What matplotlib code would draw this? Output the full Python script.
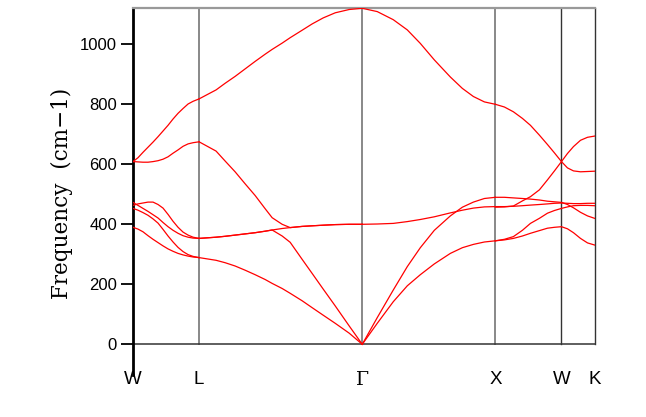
import matplotlib
matplotlib.use("Agg")
import matplotlib.pyplot as plt
import numpy as np

# high-symmetry points and their positions along the k-path
kpoint_labels = ["W", "L", "\u0393", "X", "W", "K"]
kpoint_pos = [0, 66, 229, 362, 428, 461]

# ---- W -> L segment (k offsets from W) ----
wl_k = [0, 5, 10, 15, 20, 25, 30, 35, 40, 45, 50, 55, 60, 66]
wl_bands = [
    [390, 384, 375, 362, 350, 339, 328, 318, 310, 303, 298, 294, 291, 289],
    [453, 447, 439, 430, 418, 404, 383, 361, 341, 323, 309, 299, 293, 289],
    [473, 463, 453, 443, 432, 421, 406, 392, 380, 370, 362, 357, 354, 353],
    [463, 468, 471, 474, 474, 466, 454, 433, 410, 390, 374, 364, 357, 353],
    [609, 608, 607, 607, 609, 612, 617, 625, 637, 648, 660, 668, 672, 675],
    [609, 622, 640, 657, 674, 692, 711, 730, 751, 770, 786, 801, 810, 818],
]

# ---- L -> Gamma segment (k offsets from L) ----
lg_k = [0, 17, 26, 36, 46, 56, 66, 73, 83, 91, 103, 113, 124, 136, 150, 163]
lg_bands = [
    [289, 280, 272, 261, 247, 232, 216, 203, 186, 170, 145, 122, 97, 70, 37, 0],
    [353, 357, 360, 364, 368, 372, 377, 381, 361, 340, 283, 236, 184, 128, 61, 0],
    [353, 357, 360, 364, 368, 372, 377, 381, 386, 389, 393, 395, 397, 399, 400, 400],
    [675, 644, 611, 575, 535, 496, 452, 422, 400, 389, 393, 395, 397, 399, 400, 400],
    [818, 848, 870, 893, 918, 943, 967, 983, 1004, 1022, 1047, 1068, 1088, 1105, 1116, 1120],
]

# ---- Gamma -> X segment (k offsets from Gamma) ----
gx_k = [0, 15, 31, 45, 58, 72, 88, 100, 111, 122, 133]
gx_bands = [
    [0, 70, 142, 195, 232, 268, 303, 322, 333, 341, 345],
    [0, 89, 181, 259, 322, 380, 428, 457, 474, 486, 490],
    [400, 401, 403, 409, 416, 425, 438, 447, 454, 458, 459],
    [1120, 1109, 1082, 1048, 1003, 948, 891, 853, 826, 808, 800],
]

# ---- X -> W -> K segment (k offsets from X) ----
xwk_k = [0, 9, 18, 27, 35, 44, 52, 59, 66, 72, 78, 85, 92, 99]
xwk_bands = [
    [800, 791, 775, 753, 730, 697, 666, 638, 609, 588, 578, 575, 576, 577],
    [457, 458, 461, 478, 492, 515, 548, 578, 609, 636, 659, 680, 690, 694],
    [490, 490, 488, 486, 484, 481, 477, 475, 473, 466, 455, 440, 428, 420],
    [459, 459, 460, 462, 464, 466, 468, 470, 471, 470, 469, 469, 470, 470],
    [345, 350, 359, 380, 403, 420, 437, 446, 453, 458, 462, 463, 463, 462],
    [345, 348, 353, 361, 370, 379, 387, 390, 392, 385, 372, 353, 338, 331],
]

yticks = [0, 200, 400, 600, 800, 1000]
ylabel = "Frequency  (cm\u22121)"

W, H = 646, 417
fig = plt.figure(figsize=(W / 100, H / 100), dpi=100)
left_px, right_px, top_px, bot_px = 133, 594.5, 8.3, 375
ax = fig.add_axes([left_px / W, 1 - bot_px / H, (right_px - left_px) / W, (bot_px - top_px) / H])

ymax = 1120
ymin = -(bot_px - 344.3) / (344.3 - top_px) * ymax
ax.set_xlim(kpoint_pos[0], kpoint_pos[-1])
ax.set_ylim(ymin, ymax)

red = "#ff0000"
segments = [
    (kpoint_pos[0], wl_k, wl_bands),
    (kpoint_pos[1], lg_k, lg_bands),
    (kpoint_pos[2], gx_k, gx_bands),
    (kpoint_pos[3], xwk_k, xwk_bands),
]
for start, ks, bands in segments:
    xs = start + np.asarray(ks, dtype=float)
    for b in bands:
        ax.plot(xs, b, color=red, lw=0.9, solid_joinstyle="round", zorder=3)

# vertical lines at high-symmetry points
vcolors = [None, "#888888", "#888888", "#888888", "#333333", "#333333"]
vwidths = [0, 1.4, 1.4, 1.4, 1.0, 1.0]
for p, c, w in zip(kpoint_pos, vcolors, vwidths):
    if c is None:
        continue
    ax.plot([p, p], [0, ymax], color=c, lw=w, zorder=2, clip_on=False)

# zero line
ax.plot([kpoint_pos[0], kpoint_pos[-1]], [0, 0], color="#333333", lw=1.1, zorder=2)

# spines
for s in ["bottom", "right"]:
    ax.spines[s].set_visible(False)
ax.spines["top"].set_color("#999999")
ax.spines["top"].set_linewidth(1.6)
ax.spines["left"].set_color("black")
ax.spines["left"].set_linewidth(2.0)

ax.set_yticks(yticks)
ax.set_yticklabels([str(v) for v in yticks], family="Liberation Sans", fontsize=12)
ax.tick_params(axis="y", direction="out", length=9, width=1.3, pad=2.5, colors="black")
ax.set_xticks([])

# k-point labels
label_y = -(380 - 344.3) / 0.3
for p, lab in zip(kpoint_pos, kpoint_labels):
    fam = "DejaVu Serif" if lab == "\u0393" else "Liberation Sans"
    ax.text(p, label_y, lab, ha="center", va="center", fontsize=13.5,
            family=fam, clip_on=False)

fig.text(62 / W, 1 - 193 / H, ylabel, rotation=90, ha="center", va="center",
         family="DejaVu Serif", fontsize=15.5)

fig.savefig("out.png", dpi=100)
